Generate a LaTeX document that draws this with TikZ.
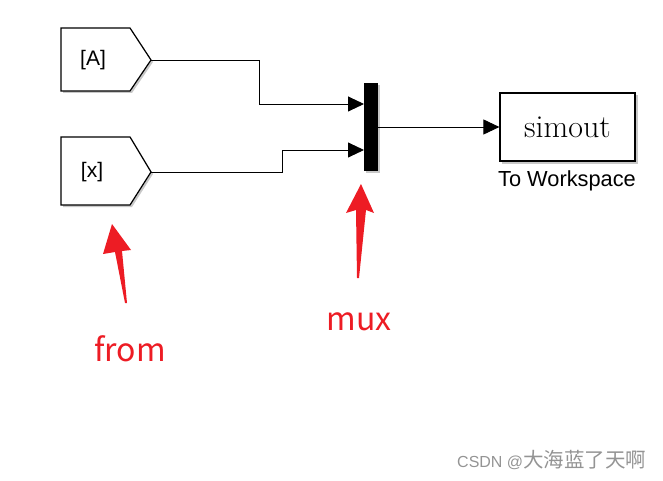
\documentclass[tikz,border=0pt]{standalone}
\usepackage{fontspec}
\newfontfamily\arialf{Liberation Sans}
\newfontfamily\cjk{Noto Sans CJK SC}
\usetikzlibrary{arrows.meta}
\definecolor{annred}{RGB}{237,28,36}
\definecolor{shadowc}{RGB}{200,200,200}
\tikzset{
  blk/.style={draw=black, line width=1.2pt, fill=white, line join=miter},
  shd/.style={fill=shadowc, draw=none},
  sig/.style={draw=black, line width=0.9pt, -{Triangle[length=16pt,width=15pt]}},
  wire/.style={draw=black, line width=0.9pt},
  lbl/.style={font=\arialf\fontsize{21}{24}\selectfont, inner sep=0pt},
  ann/.style={font=\cjk\fontsize{32}{34}\selectfont, text=annred, inner sep=0pt},
  redarrow/.style={fill=annred, draw=none}
}
\begin{document}
\begin{tikzpicture}[x=1pt,y=-1pt]
\useasboundingbox (0,0) rectangle (663,481);
% From [A]
\fill[shd] (63,30) -- (132,30) -- (153,62) -- (132,93) -- (63,93) -- cycle;
\path[blk] (61,28) -- (130,28) -- (151,60) -- (130,91) -- (61,91) -- cycle;
\node[lbl] (A) at (93,60) {[A]};
\coordinate (Aout) at (151,60);
% From [x]
\fill[shd] (63,139) -- (132,139) -- (153,174) -- (132,207) -- (63,207) -- cycle;
\path[blk] (61,137) -- (130,137) -- (151,172) -- (130,205) -- (61,205) -- cycle;
\node[lbl] (X) at (92,172) {[x]};
\coordinate (Xout) at (151,172);
% Mux
\fill[shd] (366,85) rectangle (380,173);
\node[fill=black, draw=black, minimum width=13pt, minimum height=87pt, inner sep=0pt, outer sep=0pt] (mux) at (370.5,126.5) {};
\coordinate (in1) at (364,104);
\coordinate (in2) at (364,150);
\coordinate (muxout) at (377,127);
% simout
\fill[shd] (502,95) rectangle (638,164);
\node[blk, minimum width=135pt, minimum height=68pt, inner sep=0pt, font=\fontsize{32}{34}\selectfont] (sim) at (567.5,127) {simout};
\node[lbl, font=\arialf\fontsize{21.8}{24}\selectfont] (simlbl) at (567,181) {To Workspace};
% wires
\draw[sig] (Aout) -- (259,60) -- (259,104) -- (in1);
\draw[sig] (Xout) -- (282,172) -- (282,150) -- (in2);
\draw[sig] (muxout) -- (sim.west);
% red arrows
\path[redarrow] (112,224) -- (131,250) -- (122,251) -- (127,303) -- (125,303) -- (115,252) -- (103,254) -- cycle;
\path[redarrow] (361,184) -- (374,213) -- (366,210) -- (359,278) -- (357,278) -- (356,210) -- (346,213) -- cycle;
\node[ann] (from) at (130,349) {from};
\node[ann, anchor=base] (muxl) at (359,330) {mux};
% watermark
\node[text=black!42, inner sep=0pt, anchor=base west] (wm) at (457,467) {\arialf\fontsize{16}{18}\selectfont CSDN @\cjk\fontsize{20.5}{21}\selectfont 大海蓝了天啊};
\end{tikzpicture}
\end{document}
